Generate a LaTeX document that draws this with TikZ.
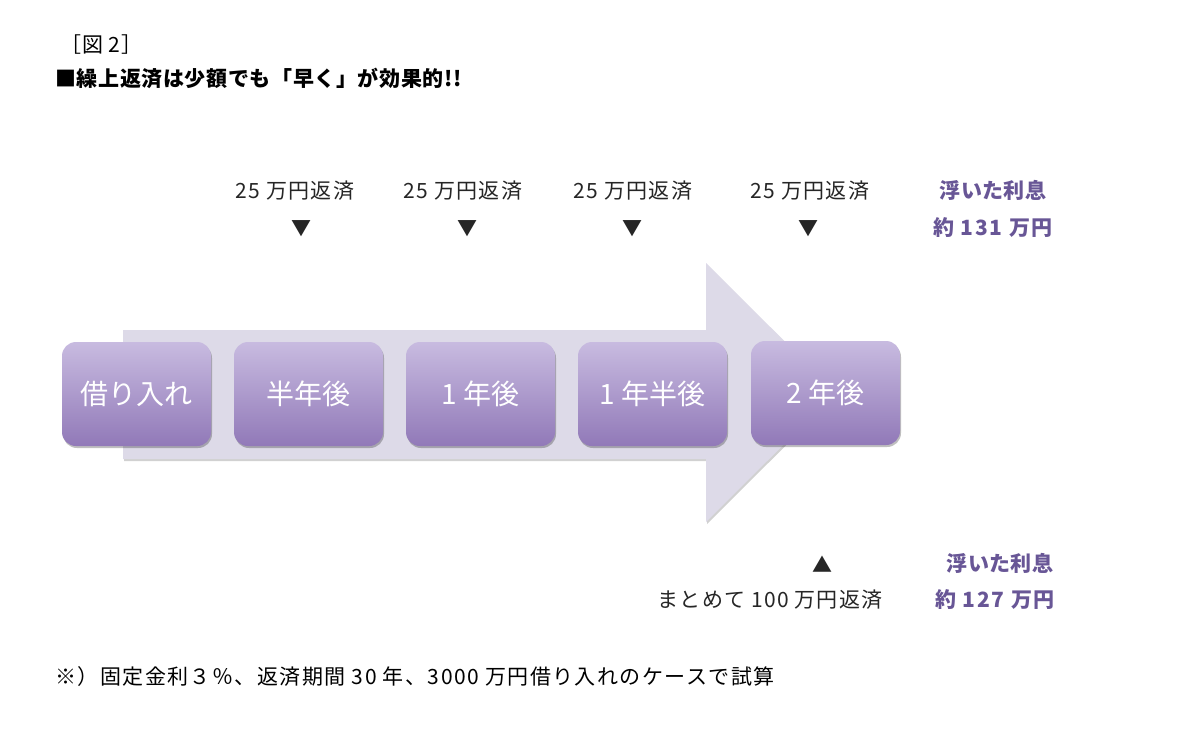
\documentclass[tikz,border=0pt]{standalone}
\usepackage{fontspec}
\setmainfont{Noto Sans CJK JP}
\usetikzlibrary{shadows}
\definecolor{arrowfill}{RGB}{221,218,232}
\definecolor{boxtop}{RGB}{200,187,224}
\definecolor{boxbot}{RGB}{145,121,184}
\definecolor{purpletext}{RGB}{104,86,150}
\tikzset{
  stepbox/.style={rounded corners=14pt, minimum width=149pt, minimum height=104pt,
    top color=boxtop, bottom color=boxbot, text=white, inner sep=0pt,
    font=\fontsize{28}{32}\selectfont,
    drop shadow={shadow xshift=1pt, shadow yshift=-2pt, opacity=0.25, fill=black}},
  lbl/.style={font=\fontsize{21}{25}\selectfont\addfontfeatures{LetterSpace=6}, text=black!85, inner sep=0pt},
  tri/.style={font=\fontsize{20}{24}\selectfont, text=black!85, inner sep=0pt},
  gain/.style={font=\fontsize{21}{25}\selectfont\bfseries\addfontfeatures{LetterSpace=2}, text=purpletext, inner sep=0pt},
  gainnum/.style={font=\fontsize{21}{25}\selectfont\bfseries\addfontfeatures{LetterSpace=8}, text=purpletext, inner sep=0pt},
}
\begin{document}
\begin{tikzpicture}[x=1pt,y=-1pt]
\useasboundingbox[fill=white] (0,0) rectangle (1200,734);
% title
\node[anchor=west, font=\fontsize{21}{24}\selectfont\addfontfeatures{LetterSpace=4}, inner sep=0pt] (fig) at (60,45) {［図 2］};
\node[anchor=west, font=\fontsize{21}{24}\selectfont\bfseries\addfontfeatures{LetterSpace=3}, inner sep=0pt] (title) at (55,78) {■繰上返済は少額でも「早く」が効果的!!};
% big arrow
\fill[black, opacity=0.18] (124,332) -- (707,332) -- (707,265) -- (837,394.5) -- (707,524) -- (707,461) -- (124,461) -- cycle;
\fill[arrowfill] (123,330) -- (706,330) -- (706,263) -- (836,392.5) -- (706,522) -- (706,459) -- (123,459) -- cycle;
% boxes
\node[stepbox] (b0) at (136.5,394) {借り入れ};
\node[stepbox] (b1) at (308.5,394) {半年後};
\node[stepbox] (b2) at (480.5,394) {1 年後};
\node[stepbox] (b3) at (652.5,394) {1 年半後};
\node[stepbox] (b4) at (825.5,393) {2 年後};
% top labels
\node[lbl] (t1) at (295,191) {25 万円返済};
\node[lbl] (t2) at (463,191) {25 万円返済};
\node[lbl] (t3) at (633,191) {25 万円返済};
\node[lbl] (t4) at (810,191) {25 万円返済};
\node[tri] (v1) at (301,229) {▼};
\node[tri] (v2) at (467,229) {▼};
\node[tri] (v3) at (632,229) {▼};
\node[tri] (v4) at (808,229) {▼};
% top right gain
\node[gain] (g1) at (993,190) {浮いた利息};
\node[gainnum] (g2) at (993,228) {約 131 万円};
% bottom
\node[tri] (up) at (822,564) {▲};
\node[lbl] (lump) at (770,600) {まとめて 100 万円返済};
\node[gain] (g3) at (1000,563) {浮いた利息};
\node[gainnum] (g4) at (995,600) {約 127 万円};
% footnote
\node[anchor=west, font=\fontsize{21}{24}\selectfont\addfontfeatures{LetterSpace=7}, inner sep=0pt] (note) at (55,677) {※）固定金利３％、返済期間 30 年、3000 万円借り入れのケースで試算};
\end{tikzpicture}
\end{document}
